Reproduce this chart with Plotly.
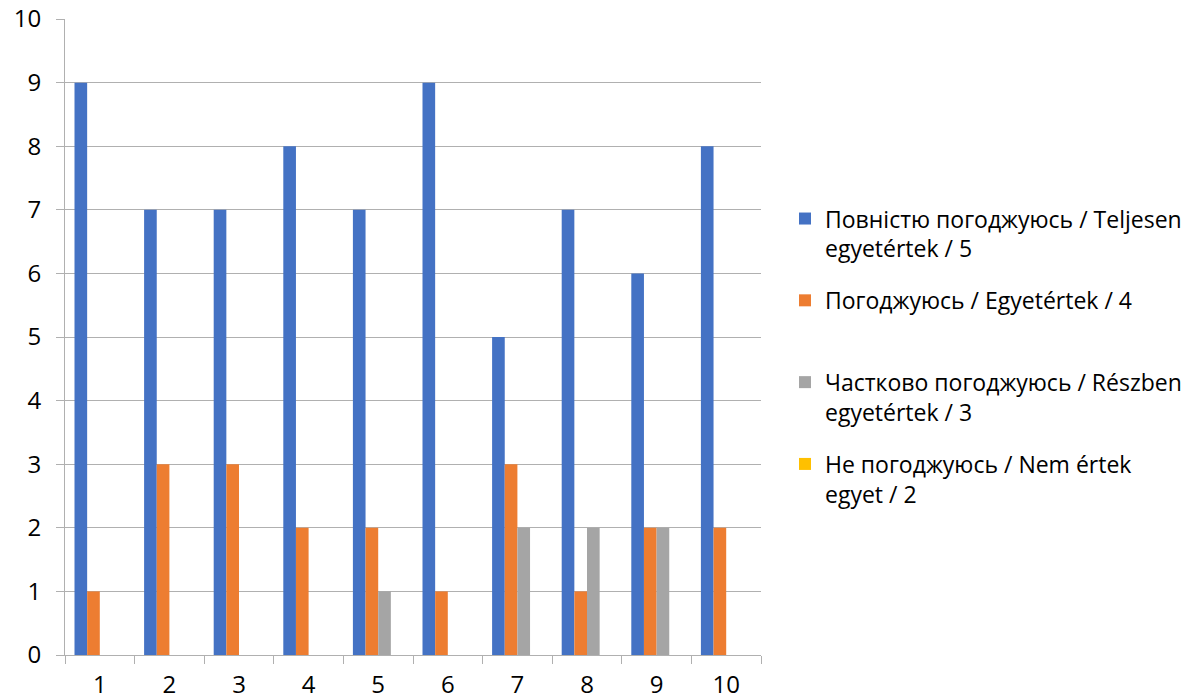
import plotly.graph_objects as go

categories = ["1", "2", "3", "4", "5", "6", "7", "8", "9", "10"]
series_names = [
    "Повністю погоджуюсь / Teljesen<br>egyetértek / 5",
    "Погоджуюсь / Egyetértek / 4<br> ",
    "Частково погоджуюсь / Részben<br>egyetértek / 3",
    "Не погоджуюсь / Nem értek<br>egyet / 2",
]
fully_agree = [9, 7, 7, 8, 7, 9, 5, 7, 6, 8]
agree = [1, 3, 3, 2, 2, 1, 3, 1, 2, 2]
partly_agree = [0, 0, 0, 0, 1, 0, 2, 2, 2, 0]
disagree = [0, 0, 0, 0, 0, 0, 0, 0, 0, 0]
y_ticks = [0, 1, 2, 3, 4, 5, 6, 7, 8, 9, 10]
colors = ["#4472C4", "#ED7D31", "#A5A5A5", "#FFC000"]

FONT = "Open Sans"
fig = go.Figure()
for i, (name, vals) in enumerate(zip(series_names, [fully_agree, agree, partly_agree, disagree])):
    fig.add_trace(go.Bar(x=categories, y=vals, name=name, marker_color=colors[i],
                         marker_line_width=0, legendgroup=f"g{i}"))

fig.update_layout(
    width=1190, height=700,
    margin=dict(l=65, r=429, t=19, b=45, autoexpand=False),
    plot_bgcolor="white", paper_bgcolor="white",
    barmode="group", bargap=0.273, bargroupgap=0,
    font=dict(family=FONT, size=24, color="#000000"),
    legend=dict(x=(785 - 65) / 696, xanchor="left", y=0.72, yanchor="top",
                valign="top", tracegroupgap=19,
                font=dict(family=FONT, size=23, color="#000000")),
    xaxis=dict(type="category", showgrid=False, showline=True, linecolor="#B0B0B0",
               linewidth=1, ticks="outside", tickson="boundaries", ticklen=8,
               tickcolor="#B0B0B0", ticklabelstandoff=8, automargin=False,
               tickfont=dict(family=FONT, size=24)),
    yaxis=dict(range=[0, 10.0005], tickmode="array", tickvals=y_ticks,
               ticktext=[str(v) for v in y_ticks],
               showgrid=True, gridcolor="#B0B0B0", gridwidth=1,
               showline=True, linecolor="#B0B0B0", ticks="outside", ticklen=8,
               tickcolor="#B0B0B0", ticklabelstandoff=10, zeroline=False, automargin=False,
               tickfont=dict(family=FONT, size=24)),
)
fig.write_html("out.html", config={"displayModeBar": False},
               post_script="document.body.style.margin='0';")
